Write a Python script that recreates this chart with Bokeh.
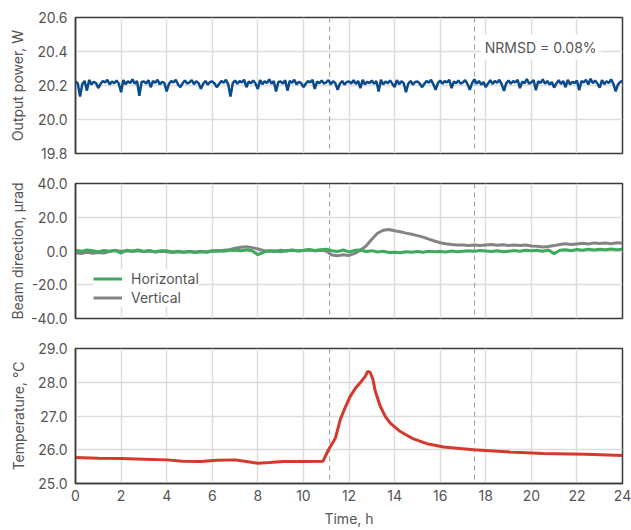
from bokeh.plotting import figure
from bokeh.models import (Range1d, FixedTicker, PrintfTickFormatter, Span, Label,
                          Legend, LegendItem)
from bokeh.layouts import column
from bokeh.embed import file_html
from bokeh.resources import INLINE

# ---------------- data ----------------
time_ticks = [0, 2, 4, 6, 8, 10, 12, 14, 16, 18, 20, 22, 24]
power_ticks = [19.8, 20.0, 20.2, 20.4, 20.6]
beam_ticks = [-40, -20, 0, 20, 40]
temp_ticks = [25, 26, 27, 28, 29]
event_hours = [11.15, 17.51]
nrmsd_text = "NRMSD = 0.08%"

power_t = [round(i / 10, 2) for i in range(241)]
power_w = [
    20.224, 20.212, 20.135, 20.209, 20.227, 20.170, 20.233, 20.207, 20.222, 20.214,
    20.185, 20.210, 20.226, 20.218, 20.234, 20.206, 20.223, 20.213, 20.230, 20.211,
    20.160, 20.232, 20.208, 20.225, 20.214, 20.236, 20.210, 20.227, 20.140, 20.221,
    20.224, 20.212, 20.231, 20.190, 20.227, 20.216, 20.233, 20.207, 20.222, 20.214,
    20.165, 20.210, 20.226, 20.218, 20.234, 20.206, 20.190, 20.213, 20.230, 20.211,
    20.218, 20.232, 20.208, 20.225, 20.214, 20.180, 20.210, 20.227, 20.205, 20.221,
    20.224, 20.212, 20.190, 20.209, 20.227, 20.216, 20.233, 20.207, 20.135, 20.214,
    20.229, 20.210, 20.226, 20.218, 20.234, 20.190, 20.223, 20.213, 20.230, 20.211,
    20.180, 20.232, 20.208, 20.225, 20.214, 20.236, 20.210, 20.227, 20.165, 20.221,
    20.224, 20.212, 20.231, 20.170, 20.227, 20.216, 20.233, 20.207, 20.222, 20.214,
    20.190, 20.210, 20.226, 20.218, 20.234, 20.180, 20.223, 20.213, 20.230, 20.211,
    20.218, 20.232, 20.208, 20.225, 20.214, 20.175, 20.210, 20.227, 20.205, 20.221,
    20.224, 20.212, 20.231, 20.209, 20.227, 20.185, 20.233, 20.207, 20.222, 20.214,
    20.229, 20.210, 20.226, 20.165, 20.234, 20.206, 20.223, 20.213, 20.230, 20.211,
    20.190, 20.232, 20.208, 20.225, 20.214, 20.160, 20.210, 20.227, 20.205, 20.221,
    20.224, 20.212, 20.190, 20.209, 20.227, 20.216, 20.233, 20.207, 20.175, 20.214,
    20.229, 20.210, 20.226, 20.218, 20.234, 20.185, 20.223, 20.213, 20.230, 20.211,
    20.218, 20.232, 20.208, 20.175, 20.214, 20.236, 20.210, 20.227, 20.205, 20.221,
    20.190, 20.212, 20.231, 20.209, 20.227, 20.216, 20.233, 20.207, 20.168, 20.214,
    20.229, 20.210, 20.226, 20.218, 20.234, 20.185, 20.223, 20.213, 20.238, 20.211,
    20.218, 20.232, 20.172, 20.225, 20.214, 20.236, 20.210, 20.227, 20.205, 20.221,
    20.188, 20.212, 20.231, 20.209, 20.227, 20.190, 20.233, 20.207, 20.222, 20.214,
    20.229, 20.172, 20.226, 20.218, 20.234, 20.206, 20.240, 20.213, 20.230, 20.211,
    20.188, 20.232, 20.208, 20.225, 20.214, 20.236, 20.210, 20.165, 20.205, 20.221,
    20.228,
]

beam_t = [i / 4 for i in range(97)]
beam_horizontal = [
    0.5, -0.2, 0.6, 0.1, -0.4, 0.3, -0.1, 0.4,
    -1.2, 0.5, 0.0, 0.6, -0.2, 0.3, -0.5, 0.2,
    0.1, -0.6, -0.2, -0.8, -0.3, -0.9, -0.4, -0.7,
    -0.2, 0.3, -0.1, 0.5, 0.6, 0.2, 0.7, 0.1,
    -2.2, -0.8, 0.2, -0.3, 0.4, 0.0, 0.6, 0.2,
    0.5, 0.9, 0.3, 0.7, 1.0, 0.2, -0.3, 0.6,
    -0.5, 0.4, 0.6, -0.3, 0.2, -0.6, -0.2, -0.9,
    -0.7, -1.0, -0.4, -0.8, -0.3, -0.7, -0.2, -0.5,
    -0.3, -0.6, 0.0, -0.4, -0.1, 0.2, -0.2, 0.3,
    0.0, -0.3, 0.2, -0.5, -0.1, 0.3, -0.2, 0.4,
    0.1, 0.5, -0.1, 0.6, -1.6, 0.4, 0.7, 0.2,
    0.9, 0.5, 1.1, 0.6, 1.0, 0.7, 1.2, 0.8,
    1.0,
]
beam_vertical = [
    -1.0, -1.5, -0.8, -1.3, -0.9, -1.2, -0.2, 0.3,
    -0.1, 0.2, -0.3, 0.1, -0.4, 0.0, -0.6, -0.2,
    -0.5, -0.9, -0.4, -0.7, -0.3, -0.6, -0.1, -0.4,
    0.2, -0.1, 0.4, 0.8, 1.6, 2.2, 2.5, 2.0,
    1.2, 0.3, -0.2, 0.2, -0.4, 0.1, 0.4, 0.0,
    0.3, 0.6, 0.1, 0.5, 0.0, -2.4, -2.8, -2.2,
    -2.6, -1.4, 0.5, 3.0, 7.0, 10.5, 12.3, 12.7,
    12.0, 11.4, 10.6, 9.9, 9.1, 8.2, 7.0, 5.9,
    4.9, 4.3, 3.9, 3.6, 3.5, 3.3, 3.6, 3.2,
    3.5, 3.8, 3.4, 3.7, 3.3, 3.6, 3.2, 3.5,
    3.0, 2.8, 2.4, 2.7, 3.2, 3.9, 4.3, 3.8,
    4.2, 4.6, 4.1, 4.8, 4.4, 4.7, 4.3, 4.9,
    4.6,
]

temp_t = [0, 1, 2, 3, 4, 4.7, 5.5, 6.2, 7.0, 7.5, 8.0, 8.5, 9.1, 10.0, 10.86,
          11.1, 11.4, 11.62, 11.85, 12.06, 12.28, 12.5, 12.72, 12.82, 12.93,
          13.05, 13.15, 13.37, 13.59, 13.81, 14.25, 14.83, 15.42, 16.15, 17.47,
          19.07, 20.5, 22.4, 24.0]
temp_c = [25.77, 25.75, 25.74, 25.72, 25.70, 25.66, 25.65, 25.69, 25.70, 25.65,
          25.60, 25.62, 25.65, 25.65, 25.66, 26.0, 26.34, 26.9, 27.28, 27.59,
          27.82, 27.99, 28.18, 28.32, 28.29, 28.09, 27.74, 27.29, 26.99, 26.79,
          26.54, 26.32, 26.18, 26.08, 26.0, 25.93, 25.89, 25.87, 25.83]

# ---------------- style ----------------
FONT = "Inter"
TXT = "#555555"
GRID = "#dcdcdc"
FRAME = "#3a3a3a"

x_range = Range1d(0, 24)


def make_fig(height, top, bottom, yr, yticks, ylabel, lab_standoff, show_x):
    p = figure(width=631, height=height, x_range=x_range, y_range=Range1d(*yr),
               output_backend="svg", toolbar_location=None,
               min_border_left=75, min_border_right=9,
               min_border_top=top, min_border_bottom=bottom)
    p.background_fill_color = "white"
    p.border_fill_color = "white"
    p.outline_line_color = FRAME
    p.outline_line_width = 1.5

    p.xaxis.ticker = FixedTicker(ticks=time_ticks)
    p.xgrid.ticker = FixedTicker(ticks=time_ticks)
    p.yaxis.ticker = FixedTicker(ticks=yticks)
    p.ygrid.ticker = FixedTicker(ticks=yticks)
    p.yaxis.formatter = PrintfTickFormatter(format="%.1f")
    for g in (p.xgrid, p.ygrid):
        g.grid_line_color = GRID
        g.grid_line_width = 1.5

    for ax in (p.xaxis, p.yaxis):
        ax.axis_line_color = FRAME
        ax.axis_line_width = 1.5
        ax.major_tick_line_color = None
        ax.minor_tick_line_color = None
        ax.major_tick_out = 0
        ax.major_tick_in = 0
        ax.major_label_text_font = FONT
        ax.major_label_text_font_size = "14px"
        ax.major_label_text_color = TXT
        ax.axis_label_text_font = FONT
        ax.axis_label_text_font_size = "14px"
        ax.axis_label_text_color = TXT
        ax.axis_label_text_font_style = "normal"

    p.yaxis.axis_label = ylabel
    p.yaxis.major_label_standoff = 8
    p.yaxis.axis_label_standoff = lab_standoff

    if show_x:
        p.xaxis.axis_label = "Time, h"
        p.xaxis.major_label_standoff = 6
        p.xaxis.axis_label_standoff = 6
    else:
        p.xaxis.visible = False

    for h in event_hours:
        p.add_layout(Span(location=h, dimension="height", line_color="#999999",
                          line_width=1, line_dash="5 4", level="underlay"))
    return p


p1 = make_fig(168, 17, 15, (19.8, 20.6), power_ticks, "Output power, W", 8, False)
p1.line(power_t, power_w, line_color="#0b4a8c", line_width=2.5)
p1.add_layout(Label(x=17.78, y=20.425, text=nrmsd_text, text_baseline="middle",
                    text_font=FONT, text_font_size="14px", text_color=TXT,
                    background_fill_color="white", padding=4))

p2 = make_fig(165, 15, 15, (-40, 40), beam_ticks, "Beam direction, µrad", 2, False)
rv = p2.line(beam_t, beam_vertical, line_color="#848488", line_width=3)
rh = p2.line(beam_t, beam_horizontal, line_color="#3daa5c", line_width=3)
legend = Legend(items=[LegendItem(label="Horizontal", renderers=[rh]),
                       LegendItem(label="Vertical", renderers=[rv])],
                location=(18, 11), orientation="vertical",
                label_text_font=FONT, label_text_font_size="14px",
                label_text_color=TXT, glyph_width=29, glyph_height=19,
                label_height=19, label_standoff=9, spacing=0, padding=7,
                border_line_color=None, background_fill_color="white",
                background_fill_alpha=1.0)
p2.add_layout(legend)

p3 = make_fig(197, 15, 47, (25, 29), temp_ticks, "Temperature, °C", 8, True)
p3.line(temp_t, temp_c, line_color="#d4392b", line_width=3)

layout = column(p1, p2, p3, spacing=0)
open("out.html", "w").write(file_html(layout, INLINE))
